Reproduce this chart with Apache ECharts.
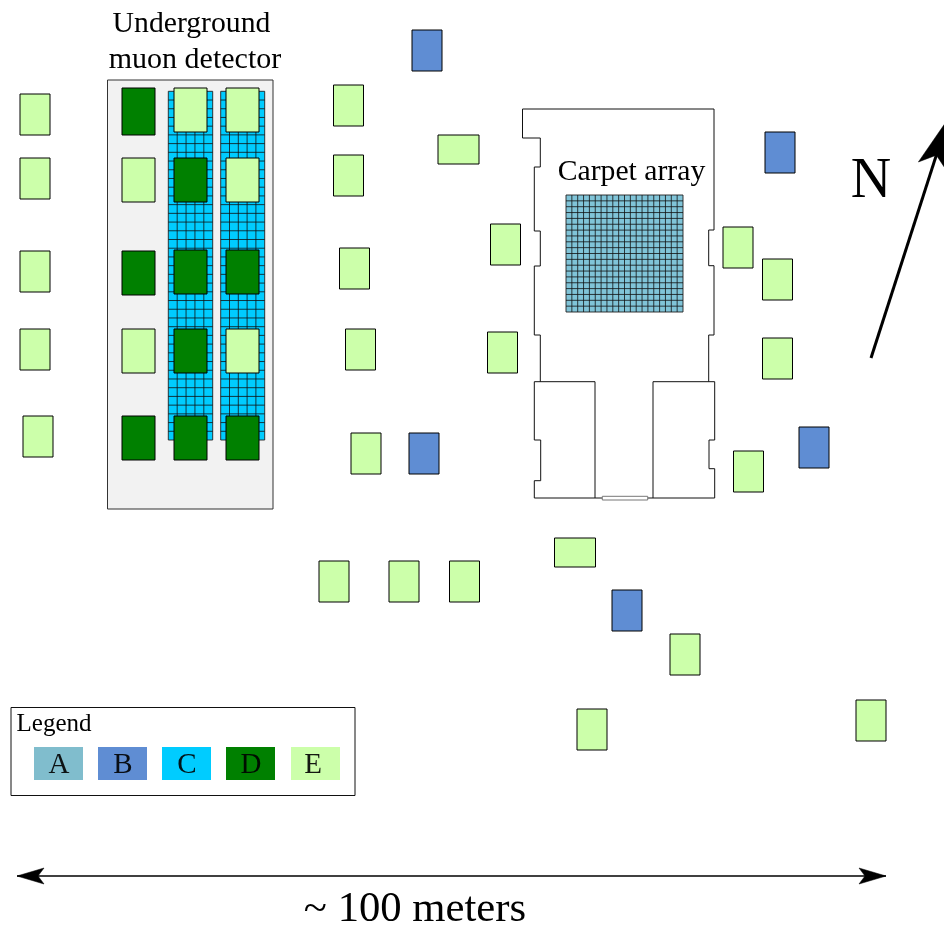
<!DOCTYPE html>
<html>
<head>
<meta charset="utf-8">
<style>html,body{margin:0;padding:0;background:#fff}#c{width:944px;height:925px}</style>
<script src="https://cdn.jsdelivr.net/npm/echarts@6/dist/echarts.min.js"></script>
</head>
<body>
<div id="c"></div>
<script>
// Layout values, in site-map units: [x, y, width, height]
const detectorsE = [
  [20,94,30,41],[20,158,30,41],[20,251,30,41],[20,329,30,41],[23,416,30,41],
  [122,158,33,44],[122,329,33,44],[174,88,33,44],[226,88,33,44],[226,158,33,44],[226,329,33,44],
  [333.5,85,30,41],[333.5,155,30,41],[339.5,248,30,41],[345.5,329,30,41],[351,433,30,41],
  [438,135,41,29],[490.5,224,30,41],[487.5,332,30,41],
  [723,227,30,41],[762.5,259,30,41],[762.5,338,30,41],[733.5,451,30,41],
  [554.5,538,41,29],[670,634,30,41],[577,709,30,41],[856,700,30,41],
  [319,561,30,41],[389,561,30,41],[449.5,561,30,41]
];
const detectorsD = [
  [122,88,33,47],[122,251,33,44],[122,416,33,44],
  [174,158,33,44],[174,250,33,44],[174,329,33,44],[174,416,33,44],
  [226,250,33,44],[226,416,33,44]
];
const detectorsB = [[412,30,30,41],[409,433,30,41],[765,132,30,41],[799,427,30,41],[612,590,30,41]];
const undergroundHall = [[107.5,80,165.5,429]];
// Segmented blocks: [x, y, width, height, columns, rows]
const blocksC = [[168.3,91.3,44.4,348.7,5,40],[220.7,91.3,44,348.7,5,40]];
const blocksA = [[566,195,117,117,20,20]];
const buildingOutlines = [
  [[595,498],[534.3,498],[534.3,480.7],[540.7,480.7],[540.7,440],[534.3,440],[534.3,381.7],[595,381.7],[595,498],[602.3,498]],
  [[647.7,498],[653,498],[653,381.7],[714.7,381.7],[714.7,440],[709,440],[709,468.7],[714.7,468.7],[714.7,498],[653,498]],
  [[540.3,381.7],[540.3,335],[534.3,335],[534.3,266],[540.3,266],[540.3,231],[534.3,231],[534.3,167],[540.3,167],[540.3,138],[522.5,138],[522.5,109],[714,109],[714,230],[708.7,230],[708.7,265.7],[714,265.7],[714,335],[708.7,335],[708.7,381.7]]
];
const doorway = [[602.3,496.3,45.4,3.7]];
const legendBox = [[11,707.5,344,88]];
const legendNames = ['A','B','C','D','E'];
const legendSwatchX = [34,98,162,226,291];
const legendLetterX = [59,123,187,251,313];
const legendColors = ['#80bdcd','#5f8dd3','#00ccff','#008000','#ccffaa'];
const scaleArrow = [[17,876,886,876]];
const northArrow = [[871,358,948,119]];
const labels = [
  ['Underground',191.5,24,29.7],
  ['muon detector',195,60,30],
  ['Carpet array',631.5,172,29.7],
  ['N',871,182,56],
  ['Legend',54,724,25],
  ['~ 100 meters',415,910,42.7]
];
const SERIF = '"Liberation Serif","Times New Roman",serif';

function rectSeries(rows, fill, stroke, lw) {
  return {
    type: 'custom', coordinateSystem: 'cartesian2d', silent: true, data: rows,
    renderItem(p, api) {
      const a = api.coord([api.value(0), api.value(1)]);
      const s = api.size([api.value(2), api.value(3)]);
      return {type:'rect', shape:{x:a[0],y:a[1],width:s[0],height:s[1]},
        style:{fill:fill, stroke:stroke, lineWidth:lw}};
    }
  };
}
function gridSeries(rows, fill) {
  return {
    type: 'custom', coordinateSystem: 'cartesian2d', silent: true, data: rows,
    renderItem(p, api) {
      const a = api.coord([api.value(0), api.value(1)]);
      const s = api.size([api.value(2), api.value(3)]);
      const cols = api.value(4), nr = api.value(5);
      const children = [{type:'rect', shape:{x:a[0],y:a[1],width:s[0],height:s[1]},
        style:{fill:fill, stroke:'#222', lineWidth:0.9}}];
      for (let i = 1; i < cols; i++) {
        const x = a[0] + s[0]*i/cols;
        children.push({type:'line', shape:{x1:x,y1:a[1],x2:x,y2:a[1]+s[1]}, style:{stroke:'#111',lineWidth:0.8}});
      }
      for (let j = 1; j < nr; j++) {
        const y = a[1] + s[1]*j/nr;
        children.push({type:'line', shape:{x1:a[0],y1:y,x2:a[0]+s[0],y2:y}, style:{stroke:'#111',lineWidth:0.8}});
      }
      return {type:'group', children};
    }
  };
}
function head(tip, from, len, back, half) {
  const dx = tip[0]-from[0], dy = tip[1]-from[1], L = Math.hypot(dx,dy);
  const u = [dx/L, dy/L], n = [-u[1], u[0]];
  const notch = [tip[0]-u[0]*len, tip[1]-u[1]*len];
  const b1 = [notch[0]-u[0]*back+n[0]*half, notch[1]-u[1]*back+n[1]*half];
  const b2 = [notch[0]-u[0]*back-n[0]*half, notch[1]-u[1]*back-n[1]*half];
  return {type:'polygon', shape:{points:[tip,b1,notch,b2]}, style:{fill:'#000',stroke:'#000',lineWidth:0.5}};
}
function arrowSeries(rows, both, len, back, half, lw) {
  return {
    type:'custom', coordinateSystem:'cartesian2d', silent:true, data:rows,
    renderItem(p, api) {
      const a = api.coord([api.value(0), api.value(1)]);
      const b = api.coord([api.value(2), api.value(3)]);
      const children = [{type:'line', shape:{x1:a[0],y1:a[1],x2:b[0],y2:b[1]}, style:{stroke:'#000',lineWidth:lw}}];
      children.push(head(b, a, len, back, half));
      if (both) children.push(head(a, b, len, back, half));
      return {type:'group', children};
    }
  };
}
const series = [
  rectSeries(undergroundHall, '#f2f2f2', '#333', 1),
  gridSeries(blocksC, '#00ccff'),
  gridSeries(blocksA, '#80c4d8'),
  rectSeries(detectorsE, '#ccffaa', '#000', 1),
  rectSeries(detectorsD, '#008000', '#000', 1),
  rectSeries(detectorsB, '#5f8dd3', '#000', 1),
  {
    type:'custom', coordinateSystem:'cartesian2d', silent:true, data: buildingOutlines.map((_,i)=>[i]),
    renderItem(p, api) {
      const pts = buildingOutlines[api.value(0)].map(q => api.coord(q));
      return {type:'polyline', shape:{points:pts}, style:{fill:'none', stroke:'#111', lineWidth:1}};
    }
  },
  rectSeries(doorway, '#fff', '#777', 1),
  rectSeries(legendBox, '#fff', '#111', 1),
  {
    type:'custom', coordinateSystem:'cartesian2d', silent:true,
    data: legendNames.map((n,i)=>[legendSwatchX[i],747,49,33,i]),
    renderItem(p, api) {
      const a = api.coord([api.value(0), api.value(1)]);
      const s = api.size([api.value(2), api.value(3)]);
      const i = api.value(4);
      const t = api.coord([legendLetterX[i], 765]);
      return {type:'group', children:[
        {type:'rect', shape:{x:a[0],y:a[1],width:s[0],height:s[1]}, style:{fill:legendColors[i]}},
        {type:'text', style:{text:legendNames[i], x:t[0], y:t[1], align:'center', verticalAlign:'middle',
          font:'29px '+SERIF, fill:'#000', opacity:0.9}}
      ]};
    }
  },
  arrowSeries(scaleArrow, true, 21, 6, 8, 1.5),
  arrowSeries(northArrow, false, 38, 12, 15, 3),
  {
    type:'custom', coordinateSystem:'cartesian2d', silent:true, data: labels.map((l,i)=>[l[1],l[2],l[3],i]),
    renderItem(p, api) {
      const a = api.coord([api.value(0), api.value(1)]);
      return {type:'text', style:{text:labels[api.value(3)][0], x:a[0], y:a[1], align:'center', verticalAlign:'middle',
        font:api.value(2)+'px '+SERIF, fill:'#000'}};
    }
  }
];
const chart = echarts.init(document.getElementById('c'), null, {renderer:'canvas'});
chart.setOption({
  animation:false,
  backgroundColor:'#fff',
  grid:{left:0,right:0,top:0,bottom:0},
  xAxis:{type:'value',min:0,max:944,show:false},
  yAxis:{type:'value',min:0,max:925,inverse:true,show:false},
  series
});
</script>
</body>
</html>
